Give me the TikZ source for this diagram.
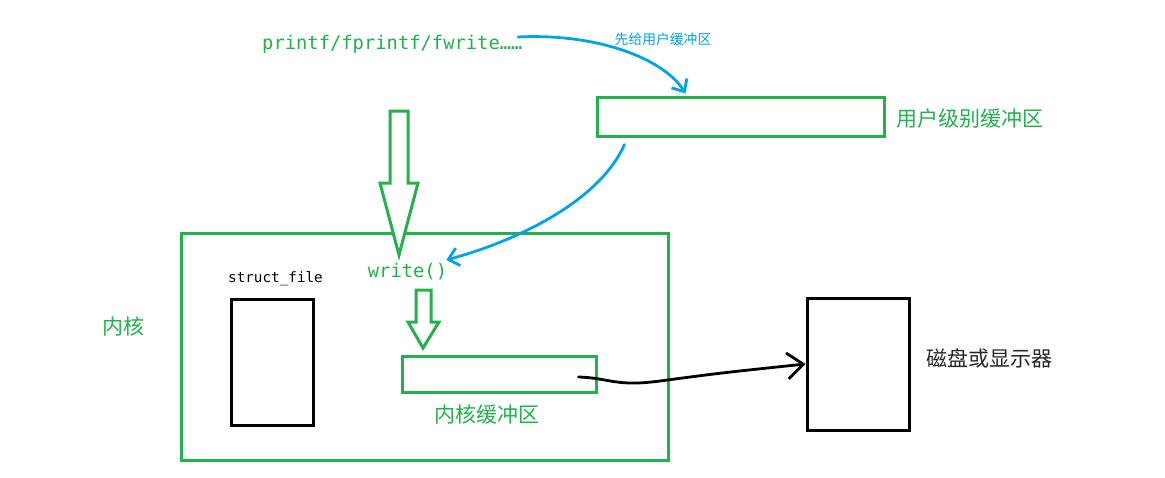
\documentclass[tikz,border=0pt]{standalone}
\usepackage{fontspec}
\newfontfamily\cjk{Noto Sans CJK SC}
\newfontfamily\monof{DejaVu Sans Mono}
\usetikzlibrary{arrows.meta,calc}
\definecolor{pgreen}{RGB}{34,177,76}
\definecolor{pblue}{RGB}{0,162,232}
\tikzset{
  gbox/.style={draw=pgreen,line width=3pt,minimum width=#1,inner sep=0pt},
  kbox/.style={draw=black,line width=3pt,inner sep=0pt},
  cjklabel/.style={font=\cjk\fontsize{21}{24}\selectfont,inner sep=0pt},
  codelabel/.style={font=\monof\fontsize{18.8}{22}\selectfont,text=pgreen,inner sep=0pt},
  hollow/.style={draw=pgreen,line width=3pt,line join=miter,fill=white},
  bluearrow/.style={draw=pblue,line width=2.8pt,line cap=round,-{Straight Barb[length=10pt,width=18pt,line width=2.8pt]}},
  blackarrow/.style={draw=black,line width=2.8pt,line cap=round,-{Straight Barb[length=16pt,width=26pt,line width=2.8pt]}}
}
\begin{document}
\begin{tikzpicture}[x=1pt,y=-1pt]
\useasboundingbox (0,0) rectangle (1165,477);
\fill[white] (0,0) rectangle (1165,477);
% boxes
\node[gbox=287pt,minimum height=39pt] (userbuf) at (740.5,116.5) {};
\node[gbox=487pt,minimum height=227pt] (kernel) at (424.5,346.5) {};
\node[gbox=194pt,minimum height=36pt] (kbuf) at (499,374) {};
\node[kbox,minimum width=82pt,minimum height=126pt] (structf) at (272,362) {};
\node[kbox,minimum width=102pt,minimum height=132pt] (disk) at (858,364) {};
% labels
\node[codelabel,anchor=west] (printf) at (262,44) {printf/fprintf/fwrite……};
\node[codelabel] (write) at (407.5,272) {write()};
\node[font=\monof\fontsize{14.3}{16}\selectfont,inner sep=0pt] (sflabel) at (275.5,279) {struct\_file};
\node[cjklabel,text=pgreen,anchor=west] (userlbl) at (896,119) {用户级别缓冲区};
\node[cjklabel,text=pgreen] (kernlbl) at (123.5,326) {内核};
\node[cjklabel,text=pgreen] (kbuflbl) at (486.5,415) {内核缓冲区};
\node[cjklabel,text=black!85,anchor=west] (disklbl) at (926,358) {磁盘或显示器};
\node[font=\cjk\fontsize{13.8}{16}\selectfont,text=pblue,inner sep=0pt] (bluelbl) at (663,39) {先给用户缓冲区};
% hollow arrows
\draw[hollow] (390,111) -- (408,111) -- (408,183) -- (418,183) -- (399,255) -- (380,183) -- (390,183) -- cycle;
\draw[hollow] (416,290) -- (431,290) -- (431,322) -- (439,322) -- (423,348) -- (408,322) -- (416,322) -- cycle;
% blue connectors
\draw[bluearrow] (518,37) .. controls (600,33) and (665,60) .. ($(userbuf.north west)+(90,-2)$);
\draw[bluearrow] ($(userbuf.south west)+(29,7)$) .. controls (600,200) and (520,240) .. ($(write.east)+(-1,-12)$);
% black connector
\draw[blackarrow] ($(kbuf.east)+(-19,3)$) .. controls (610,378) and (615,387) .. (660,381) .. controls (720,373) .. (disk.west);
\end{tikzpicture}
\end{document}
